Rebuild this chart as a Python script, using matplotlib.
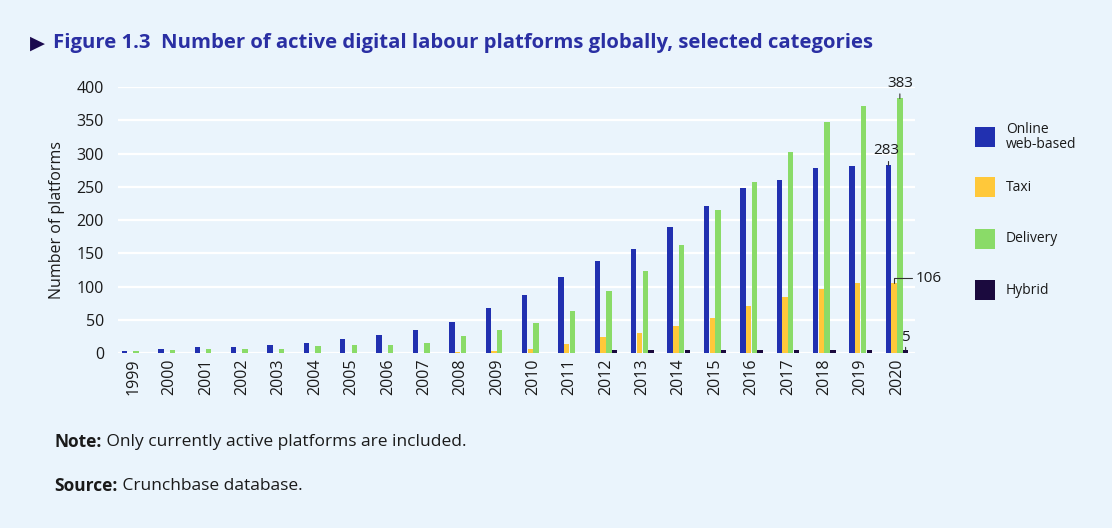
import numpy as np
from matplotlib import pyplot as plt
from matplotlib.patches import Rectangle

plt.rcParams['font.family'] = ['Open Sans', 'DejaVu Sans']

years = [str(y) for y in range(1999, 2021)]
online = [4, 6, 9, 9, 13, 15, 21, 27, 35, 47, 68, 87, 114, 138, 156, 189, 221, 249, 261, 279, 282, 283]
taxi = [0, 0, 0, 0, 0, 0, 0, 0, 1, 2, 3, 6, 14, 24, 31, 41, 53, 71, 84, 96, 106, 106]
delivery = [3, 5, 6, 6, 7, 11, 12, 12, 16, 26, 35, 45, 63, 93, 124, 163, 216, 258, 303, 348, 372, 383]
hybrid = [0, 0, 0, 0, 0, 0, 0, 0, 0, 0, 0, 1, 1, 5, 5, 5, 5, 5, 5, 5, 5, 5]

series_names = ['Online\nweb-based', 'Taxi', 'Delivery', 'Hybrid']
colors = ['#2130B0', '#FFC83A', '#8ADB68', '#1B0A3E']
bg = '#EAF4FC'
txt = '#1a1a1a'

W, H = 1112, 528
fig = plt.figure(figsize=(W / 100, H / 100), dpi=100, facecolor=bg)
ax = fig.add_axes([0.106, 0.331, 0.717, 0.504], facecolor=bg)

x = np.arange(len(years))
w = 0.15
step = 0.158
for i, (vals, c) in enumerate(zip([online, taxi, delivery, hybrid], colors)):
    ax.bar(x + (i - 1.5) * step, vals, width=w, color=c, zorder=3, clip_on=False)

ax.set_xlim(-0.42, len(years) - 0.5)
ax.set_ylim(0, 400)
ax.set_yticks(np.arange(0, 401, 50))
ax.yaxis.grid(True, color='white', linewidth=1.6, zorder=0)
ax.set_axisbelow(True)
for s in ax.spines.values():
    s.set_visible(False)
ax.tick_params(axis='both', length=0, labelsize=11.5, colors=txt)
ax.tick_params(axis='y', pad=10)
ax.set_xticks(x)
ax.set_xticklabels(years, rotation=90)
ax.set_ylabel('Number of platforms', fontsize=11.5, color=txt, labelpad=8)

# callouts on the 2020 group
last = len(years) - 1
lc = '#333333'
ap = dict(arrowstyle='-', color=lc, lw=0.8, shrinkA=0, shrinkB=0)
ax.annotate(str(delivery[-1]), xy=(last + 0.5 * step, delivery[-1]), xytext=(last + 0.5 * step, delivery[-1] + 11),
            ha='center', va='bottom', fontsize=11, color=txt, arrowprops=ap, annotation_clip=False)
ax.annotate(str(online[-1]), xy=(last - 1.5 * step, online[-1]), xytext=(last - 1.9 * step, online[-1] + 10),
            ha='center', va='bottom', fontsize=11, color=txt,
            arrowprops=dict(ap, connectionstyle='angle,angleA=0,angleB=90,rad=0'), annotation_clip=False)
ax.annotate(str(taxi[-1]), xy=(last - 0.5 * step, taxi[-1]), xytext=(last + 0.5, taxi[-1] + 7),
            ha='left', va='center', fontsize=11, color=txt,
            arrowprops=dict(ap, connectionstyle='angle,angleA=0,angleB=90,rad=0'), annotation_clip=False)
ax.annotate(str(hybrid[-1]), xy=(last + 1.5 * step, hybrid[-1]), xytext=(last + 1.5 * step, hybrid[-1] + 8),
            ha='center', va='bottom', fontsize=11, color=txt, arrowprops=ap, annotation_clip=False)

# legend, drawn by hand to keep the even row spacing
leg_y = [137, 187, 239, 290]
for name, c, yy in zip(series_names, colors, leg_y):
    fig.patches.append(Rectangle((975 / W, 1 - (yy + 10) / H), 20 / W, 20 / H,
                                 transform=fig.transFigure, facecolor=c, edgecolor='none'))
    fig.text(1006 / W, 1 - yy / H, name, fontsize=10, color=txt, va='center', ha='left', linespacing=1.0)

# title and notes
fig.text(0.027, 0.918, '\u25B6', fontsize=14, color='#1B0A4E', va='center', ha='left',
         family=['DejaVu Sans'])
fig.text(0.048, 0.918, 'Figure 1.3  Number of active digital labour platforms globally, selected categories',
         fontsize=14.6, fontweight='bold', color='#2A2FA3', va='center', ha='left')

fig.canvas.draw()
r = fig.canvas.get_renderer()
for label, rest, yy in [('Note:', ' Only currently active platforms are included.', 0.163),
                        ('Source:', ' Crunchbase database.', 0.080)]:
    t = fig.text(0.049, yy, label, fontsize=12.5, fontweight='bold', color=txt, va='center', ha='left')
    bb = t.get_window_extent(renderer=r)
    fig.text(bb.x1 / W, yy, rest, fontsize=12.5, color=txt, va='center', ha='left')

fig.savefig('out.png', dpi=100, facecolor=bg)
